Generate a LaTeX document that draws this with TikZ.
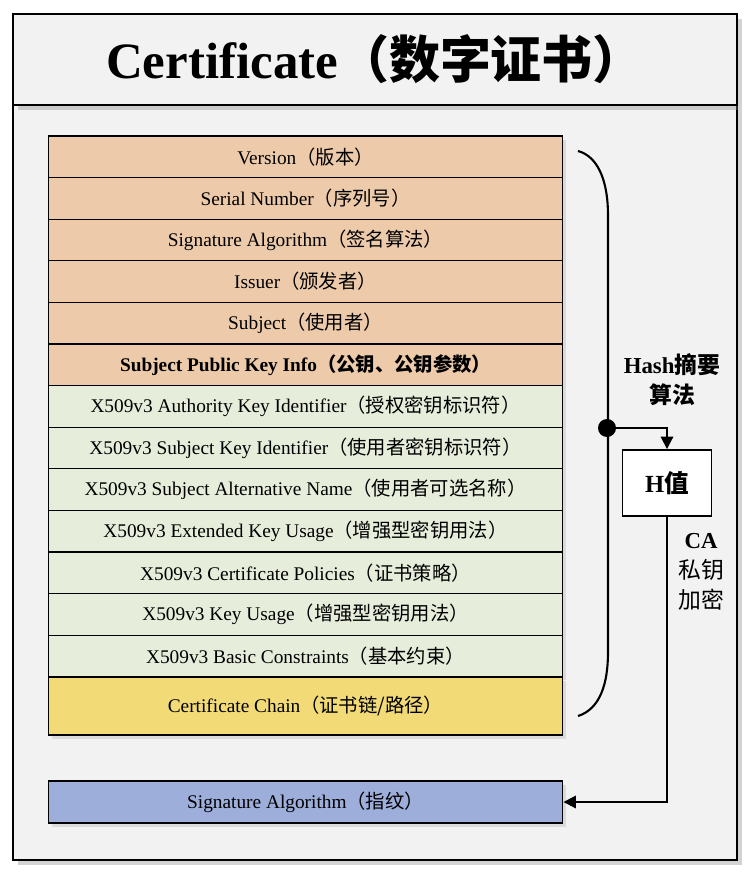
\documentclass[tikz,border=0pt]{standalone}
\usepackage{fontspec}
\setmainfont{Liberation Serif}
\newfontfamily\cjk{Noto Sans CJK SC}
\usetikzlibrary{arrows.meta,positioning,shadows}
\definecolor{framegray}{HTML}{F2F2F2}
\definecolor{peach}{HTML}{EDCBAA}
\definecolor{leaf}{HTML}{E6EEDB}
\definecolor{straw}{HTML}{F2DA77}
\definecolor{steel}{HTML}{9EAEDB}
\newcommand{\zh}[1]{{\cjk #1}}

\begin{document}
\begin{tikzpicture}[x=0.02cm, y=-0.02cm,
    frame/.style={draw, line width=1.2pt, fill=framegray, minimum width=14.48cm, drop shadow={opacity=.35, shadow xshift=3pt, shadow yshift=-3pt}},
    field/.style={draw, line width=0.6pt, minimum width=10.3cm, minimum height=0.832cm, font=\fontsize{11}{13}\selectfont, drop shadow={opacity=.2, shadow xshift=2pt, shadow yshift=-2pt}},
    head/.style={field, fill=peach},
    ext/.style={field, fill=leaf},
    arr/.style={-{Triangle[length=7pt, width=7pt]}, line width=1.1pt},
    side/.style={align=center, font=\fontsize{13}{17}\selectfont\bfseries}
]
\useasboundingbox (0,0) rectangle (750,879);

% outer frame
\node[frame, minimum height=15.1cm] (body) at (375,482.5) {};
\node[frame, minimum height=1.82cm, font=\fontsize{29}{33}\selectfont\bfseries] (title) at (375,59.5) {Certificate\zh{（数字证书）}};

% certificate fields
\node[head] (ver)  at (305.5,156.8) {Version\zh{（版本）}};
\node[head] (ser)  at (305.5,198.4) {Serial Number\zh{（序列号）}};
\node[head] (alg)  at (305.5,240.0) {Signature Algorithm\zh{（签名算法）}};
\node[head] (iss)  at (305.5,281.6) {Issuer\zh{（颁发者）}};
\node[head] (subj) at (305.5,323.2) {Subject\zh{（使用者）}};
\node[head, font=\fontsize{11}{13}\selectfont\bfseries] (pkey) at (305.5,364.8) {Subject Public Key Info\zh{（公钥、公钥参数）}};
\node[ext] (aki)  at (305.5,406.4) {X509v3 Authority Key Identifier\zh{（授权密钥标识符）}};
\node[ext] (ski)  at (305.5,448.0) {X509v3 Subject Key Identifier\zh{（使用者密钥标识符）}};
\node[ext] (san)  at (305.5,489.6) {X509v3 Subject Alternative Name\zh{（使用者可选名称）}};
\node[ext] (eku)  at (305.5,531.2) {X509v3 Extended Key Usage\zh{（增强型密钥用法）}};
\node[ext] (pol)  at (305.5,572.8) {X509v3 Certificate Policies\zh{（证书策略）}};
\node[ext] (ku)   at (305.5,614.4) {X509v3 Key Usage\zh{（增强型密钥用法）}};
\node[ext] (bc)   at (305.5,656.0) {X509v3 Basic Constraints\zh{（基本约束）}};
\node[field, fill=straw, minimum height=1.16cm] (chain) at (305.5,706) {Certificate Chain\zh{（证书链/路径）}};
\node[field, fill=steel, minimum height=0.84cm] (sig) at (305.5,802) {Signature Algorithm\zh{（指纹）}};

% brace over the signed part
\draw[line width=1.2pt] (578,151) .. controls (600,157) and (608,185) .. (608,215) -- (608,652) .. controls (608,684) and (600,709) .. (578,716);
\node[circle, fill=black, inner sep=0pt, minimum size=0.36cm] (split) at (607,428) {};
\node[side] (hash) at (672,380) {Hash\zh{摘要}\\\zh{算法}};

\node[draw, fill=white, line width=1.1pt, minimum width=1.78cm, minimum height=1.32cm, font=\fontsize{14}{16}\selectfont\bfseries] (hval) at (667,483) {H\zh{值}};
\node[side, font=\fontsize{13}{17}\selectfont] (ca) at (701,572) {\textbf{CA}\\\zh{私钥}\\\zh{加密}};

\draw[arr] (split) -| (hval);
\draw[arr] (hval) |- (sig);
\end{tikzpicture}
\end{document}
